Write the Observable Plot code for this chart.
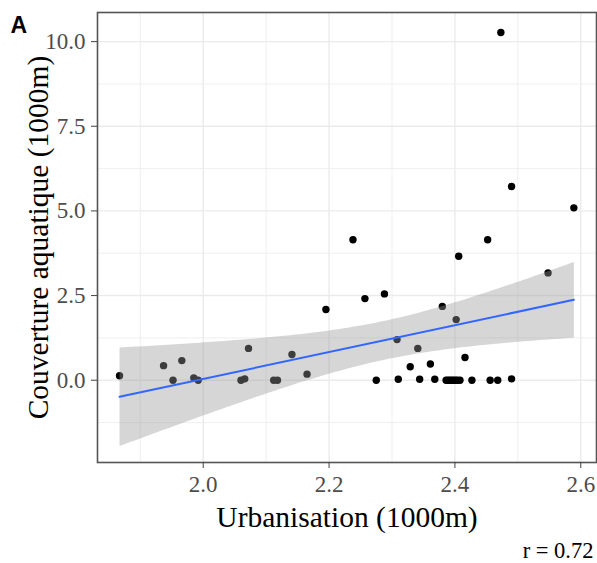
<!DOCTYPE html>
<html>
<head>
<meta charset="utf-8">
<script src="https://cdn.jsdelivr.net/npm/d3@7"></script>
<script src="https://cdn.jsdelivr.net/npm/@observablehq/plot@0.6"></script>
<style>
  body { margin: 0; background: #fff; }
  #chart svg { display: block; }
</style>
</head>
<body>
<div id="chart"></div>
<script>
// Urbanisation vs. aquatic cover, both measured in a 1000 m buffer
const urbanisation = [
  1.867, 1.937, 1.952, 1.966, 1.985, 1.992, 2.060, 2.066, 2.072, 2.112,
  2.118, 2.141, 2.165, 2.195, 2.238, 2.257, 2.275, 2.288, 2.308, 2.310,
  2.329, 2.341, 2.344, 2.361, 2.368, 2.380,
  2.386, 2.389, 2.392, 2.395, 2.398, 2.401, 2.404, 2.408,
  2.402, 2.406, 2.416, 2.427, 2.452, 2.456, 2.468, 2.473, 2.490, 2.490,
  2.548, 2.589
];
const couverture = [
  0.13, 0.43, 0.00, 0.58, 0.07, 0.00, 0.00, 0.04, 0.94, 0.00,
  0.00, 0.76, 0.18, 2.09, 4.15, 2.41, 0.00, 2.55, 1.20, 0.03,
  0.40, 0.94, 0.03, 0.48, 0.03, 2.18,
  0.00, 0.00, 0.00, 0.00, 0.00, 0.00, 0.00, 0.00,
  1.79, 3.66, 0.67, 0.00, 4.15, 0.00, 0.00, 10.27, 5.72, 0.04,
  3.17, 5.09
];
const xTicks = [2.0, 2.2, 2.4, 2.6];
const yTicks = [0, 2.5, 5.0, 7.5, 10.0];
const xMinor = [1.9, 2.1, 2.3, 2.5];
const yMinor = [-1.25, 1.25, 3.75, 6.25, 8.75];
const panelTag = "A";
const xTitle = "Urbanisation (1000m)";
const yTitle = "Couverture aquatique (1000m)";
const note = "r = 0.72";

const sites = urbanisation.map((u, i) => ({u, c: couverture[i]}));

const tickColor = "#4d4d4d";
const gridColor = "#ebebeb";

const chart = Plot.plot({
  width: 597,
  height: 563,
  marginLeft: 97,
  marginRight: 1,
  marginTop: 12,
  marginBottom: 101,
  style: {fontFamily: "'Liberation Serif', 'Times New Roman', serif", background: "#fff", overflow: "visible"},
  x: {domain: [1.832, 2.625]},
  y: {domain: [-2.43, 10.86]},
  marks: [
    // minor and major grid lines
    Plot.gridX(xMinor, {stroke: gridColor, strokeOpacity: 1, strokeWidth: 0.8}),
    Plot.gridY(yMinor, {stroke: gridColor, strokeOpacity: 1, strokeWidth: 0.8}),
    Plot.gridX(xTicks, {stroke: gridColor, strokeOpacity: 1, strokeWidth: 1.4}),
    Plot.gridY(yTicks, {stroke: gridColor, strokeOpacity: 1, strokeWidth: 1.4}),
    Plot.dot(sites, {x: "u", y: "c", r: 3.7, fill: "#000", stroke: "none"}),
    // least-squares fit with its 95% confidence band, drawn over the points
    Plot.linearRegressionY(sites, {
      x: "u", y: "c", ci: 0.95,
      stroke: "#3366ff", strokeWidth: 2,
      fill: "#999999", fillOpacity: 0.4
    }),
    Plot.frame({stroke: "#555", strokeWidth: 1.6}),
    Plot.axisX(xTicks, {
      tickFormat: d3.format(".1f"), tickSize: 6, tickPadding: 7,
      fontSize: 23, color: tickColor, stroke: "#444", label: null
    }),
    Plot.axisY(yTicks, {
      tickFormat: d3.format(".1f"), tickSize: 6, tickPadding: 6,
      fontSize: 23, color: tickColor, stroke: "#444", label: null
    }),
    // axis titles, panel tag and correlation note
    Plot.text([xTitle], {frameAnchor: "bottom", dy: 55, fontSize: 29.5, fill: "#000",
      textAnchor: "middle", lineAnchor: "middle"}),
    Plot.text([yTitle], {frameAnchor: "left", dx: -59, rotate: -90, fontSize: 29.5, fill: "#000",
      textAnchor: "middle", lineAnchor: "middle"}),
    Plot.text([panelTag], {frameAnchor: "top-left", dx: -87, dy: 13, fontSize: 23, fontWeight: "bold",
      fontFamily: "'Liberation Sans', Arial, sans-serif", fill: "#000", textAnchor: "start", lineAnchor: "middle"}),
    Plot.text([note], {frameAnchor: "bottom-right", dx: -3, dy: 88, fontSize: 22.5, fill: "#000",
      textAnchor: "end", lineAnchor: "middle"})
  ]
});

document.getElementById("chart").append(chart);
</script>
</body>
</html>
